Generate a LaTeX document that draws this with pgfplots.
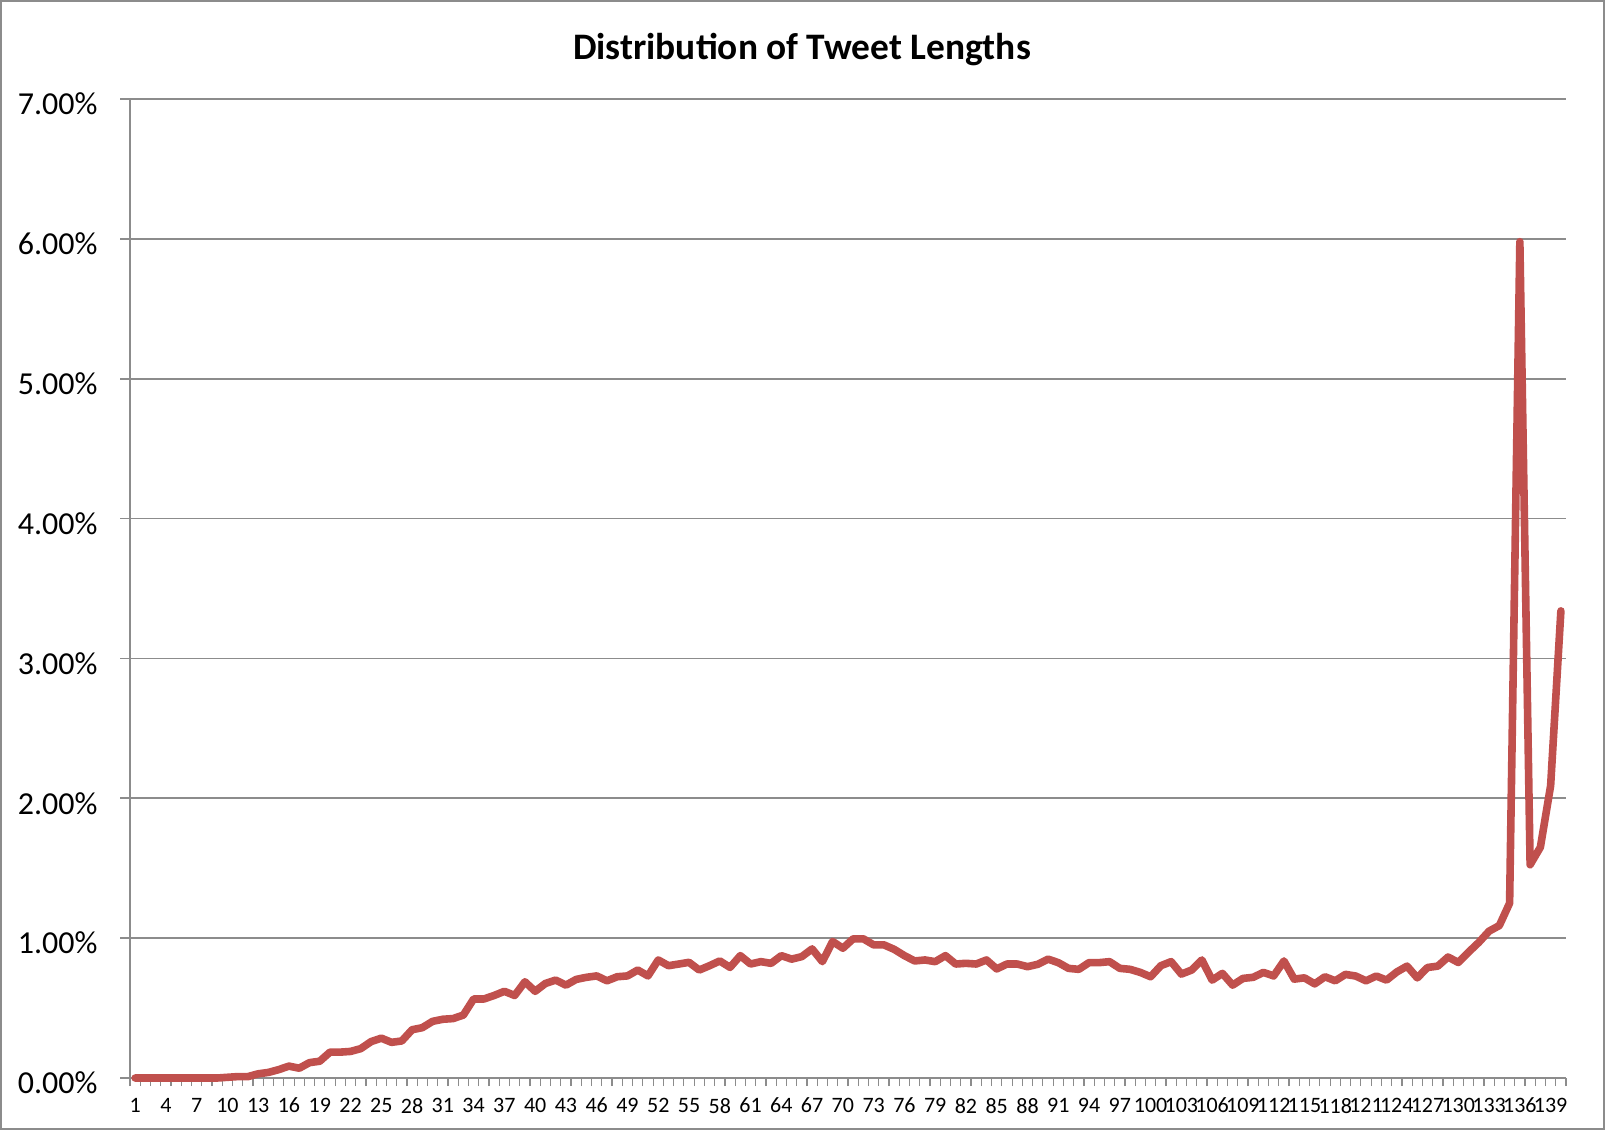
\documentclass[border=0pt]{standalone}
\usepackage{pgfplots}
\pgfplotsset{compat=1.18}
\usepackage{pgfplotstable}
\usepackage{fontspec}
\setmainfont{Carlito}
\definecolor{excelred}{HTML}{C0504D}
\definecolor{gridgray}{HTML}{8C8C8C}
\pgfplotstableread{
len pct
1 0
2 0
3 0
4 0
5 0
6 0
7 0
8 0
9 0
10 0.005
11 0.01
12 0.01
13 0.03
14 0.04
15 0.06
16 0.085
17 0.07
18 0.11
19 0.12
20 0.185
21 0.185
22 0.19
23 0.21
24 0.26
25 0.285
26 0.255
27 0.265
28 0.345
29 0.36
30 0.405
31 0.42
32 0.425
33 0.45
34 0.565
35 0.565
36 0.59
37 0.62
38 0.59
39 0.688
40 0.62
41 0.676
42 0.70
43 0.664
44 0.705
45 0.72
46 0.73
47 0.695
48 0.724
49 0.73
50 0.772
51 0.73
52 0.844
53 0.803
54 0.815
55 0.827
56 0.772
57 0.803
58 0.837
59 0.791
60 0.875
61 0.815
62 0.832
63 0.82
64 0.875
65 0.85
66 0.868
67 0.923
68 0.832
69 0.976
70 0.928
71 0.995
72 0.995
73 0.952
74 0.952
75 0.92
76 0.875
77 0.837
78 0.844
79 0.832
80 0.875
81 0.815
82 0.82
83 0.815
84 0.844
85 0.78
86 0.815
87 0.815
88 0.796
89 0.813
90 0.85
91 0.825
92 0.784
93 0.777
94 0.825
95 0.825
96 0.832
97 0.784
98 0.777
99 0.755
100 0.724
101 0.803
102 0.832
103 0.743
104 0.772
105 0.844
106 0.70
107 0.748
108 0.664
109 0.712
110 0.72
111 0.755
112 0.73
113 0.837
114 0.707
115 0.716
116 0.673
117 0.724
118 0.695
119 0.741
120 0.729
121 0.695
122 0.729
123 0.70
124 0.758
125 0.80
126 0.716
127 0.79
128 0.80
129 0.865
130 0.826
131 0.90
132 0.97
133 1.05
134 1.09
135 1.25
136 5.98
137 1.525
138 1.65
139 2.09
140 3.34
}\tweets
\begin{document}
\begin{tikzpicture}
\draw[gridgray, line width=0.8pt] (0.4pt,0.4pt) rectangle (802.1pt,564.6pt);
\node[font=\bfseries\fontsize{18.7}{21}\selectfont, anchor=center] at (401pt,540pt) {Distribution of Tweet Lengths};
\begin{axis}[
  at={(65pt,26pt)}, anchor=origin,
  scale only axis,
  width=718pt, height=489.5pt,
  xmin=0.5, xmax=140.5, ymin=0, ymax=7,
  axis x line*=bottom, axis y line*=left,
  axis line style={gridgray, line width=0.8pt},
  xtick={1,4,...,139},
  minor xtick={0.5,1.5,...,140.5},
  ytick={0,1,...,7},
  yticklabels={0.00\%,1.00\%,2.00\%,3.00\%,4.00\%,5.00\%,6.00\%,7.00\%},
  ymajorgrids,
  grid style={gridgray, line width=0.8pt},
  tick align=outside,
  major tick length=5pt,
  minor tick length=4pt,
  x tick style={draw=none},
  minor x tick style={draw=gridgray, line width=0.6pt},
  y tick style={draw=gridgray, line width=0.8pt},
  /pgf/number format/assume math mode=true,
  xticklabel style={font=\fontsize{11}{12}\selectfont, yshift=-1.5pt},
  yticklabel style={font=\fontsize{16}{18}\selectfont, xshift=-7.7pt, yshift=-2.5pt},
  clip=false,
]
\addplot[excelred, line width=3.8pt, line join=round, line cap=round] table[x=len, y=pct] {\tweets};
\end{axis}
\end{tikzpicture}
\end{document}
